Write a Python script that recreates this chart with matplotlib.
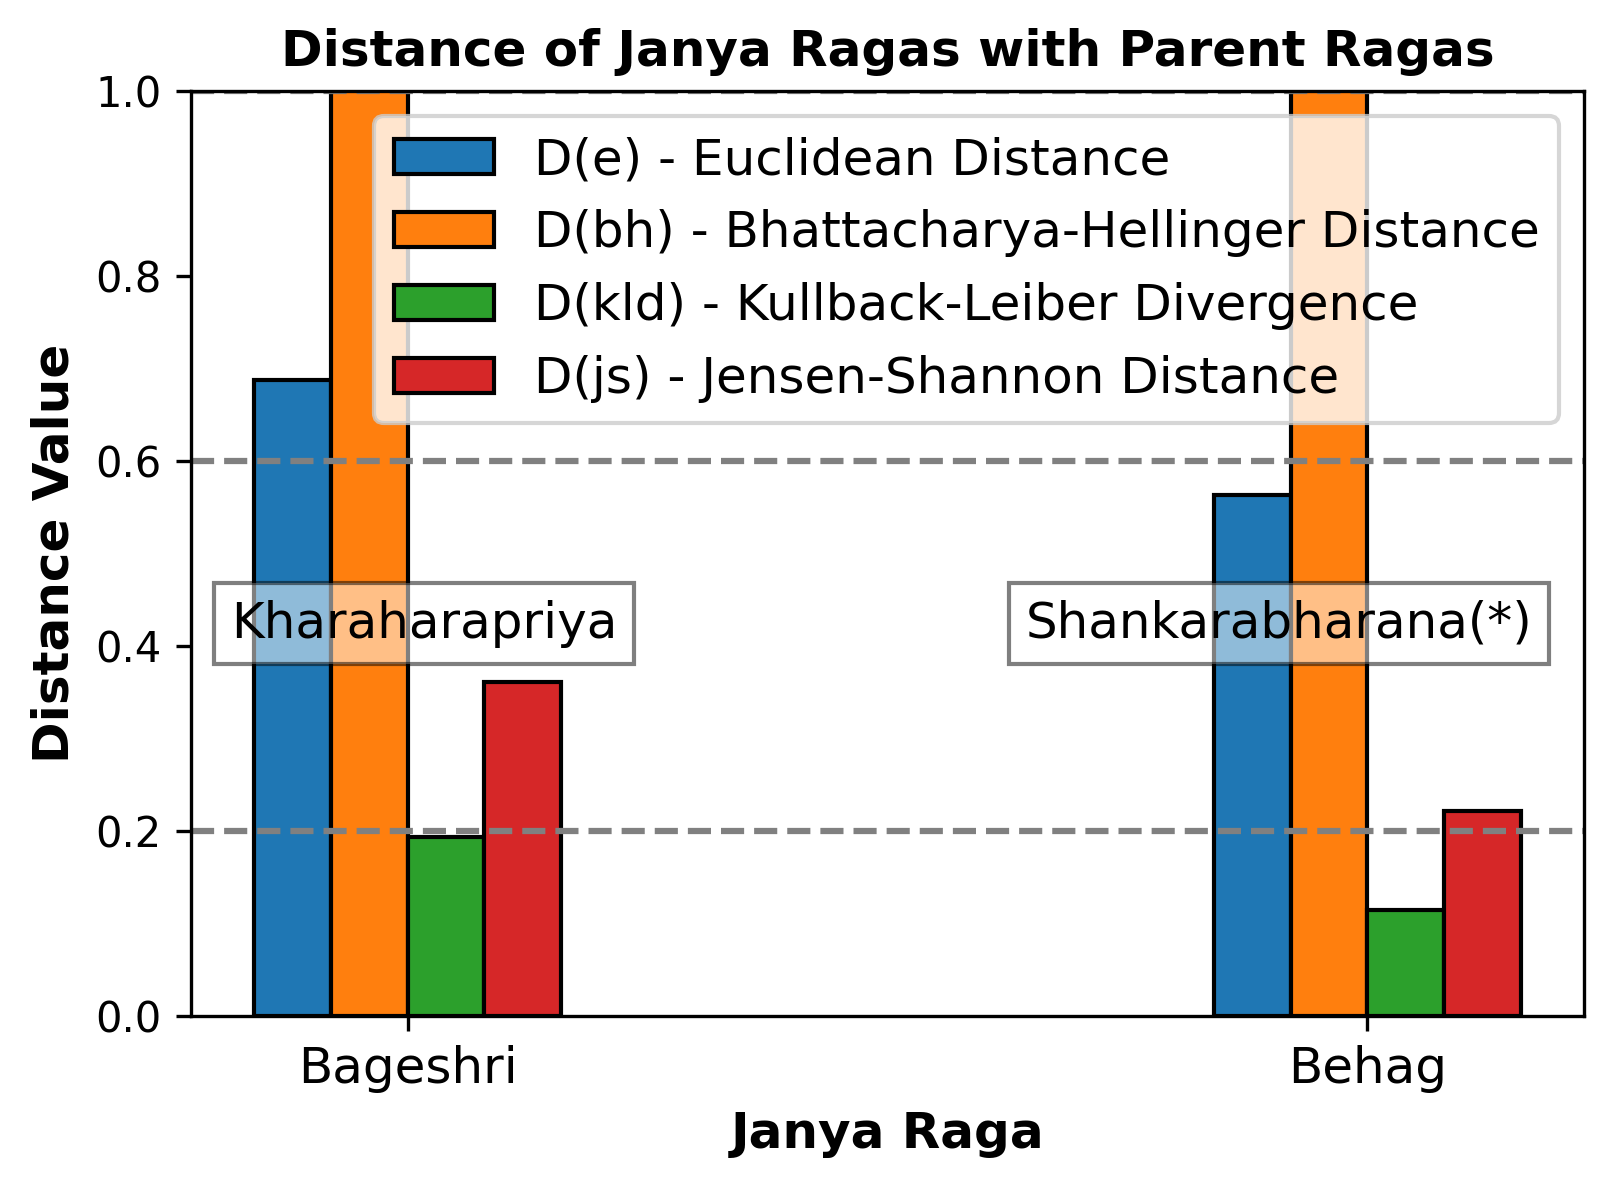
import matplotlib
matplotlib.use("Agg")
import matplotlib.pyplot as plt
import numpy as np

# data
janya_ragas = ["Bageshri", "Behag"]
parent_ragas = ["Kharaharapriya", "Shankarabharana(*)"]
d_e = [0.688, 0.563]
d_bh = [1.25, 1.30]   # both bars run past the top of the axis
d_kld = [0.193, 0.114]
d_js = [0.361, 0.222]

series_labels = [
    "D(e) - Euclidean Distance",
    "D(bh) - Bhattacharya-Hellinger Distance",
    "D(kld) - Kullback-Leiber Divergence",
    "D(js) - Jensen-Shannon Distance",
]
colors = ["#1f77b4", "#ff7f0e", "#2ca02c", "#d62728"]

# parent raga label positions (data coords)
label_x = [0.017, 0.908]
label_y = [0.424, 0.424]

fig, ax = plt.subplots(figsize=(1615 / 300, 1188 / 300), dpi=300)

x = np.arange(len(janya_ragas))
width = 0.08
for i, (vals, lab, col) in enumerate(zip([d_e, d_bh, d_kld, d_js], series_labels, colors)):
    ax.bar(x + (i - 1.5) * width, vals, width, label=lab, color=col,
           edgecolor="black", linewidth=1)

for y in (0.2, 0.6, 1.0):
    ax.axhline(y, color="gray", linestyle="--", linewidth=1.5)

for xi, yi, name in zip(label_x, label_y, parent_ragas):
    ax.text(xi, yi, name, ha="center", va="center", fontsize=12,
            bbox=dict(facecolor="white", alpha=0.5))

ax.set_ylim(0, 1.0)
ax.set_xticks(x)
ax.set_xticklabels(janya_ragas, fontsize=12)
ax.tick_params(axis="y", labelsize=10)
ax.set_xlabel("Janya Raga", fontsize=12, fontweight="bold")
ax.set_ylabel("Distance Value", fontsize=12, fontweight="bold")
ax.set_title("Distance of Janya Ragas with Parent Ragas", fontsize=12, fontweight="bold")
ax.legend(loc="upper right", fontsize=12)

fig.subplots_adjust(left=0.118, right=0.981, top=0.923, bottom=0.145)
fig.savefig("out.png", dpi=300)
